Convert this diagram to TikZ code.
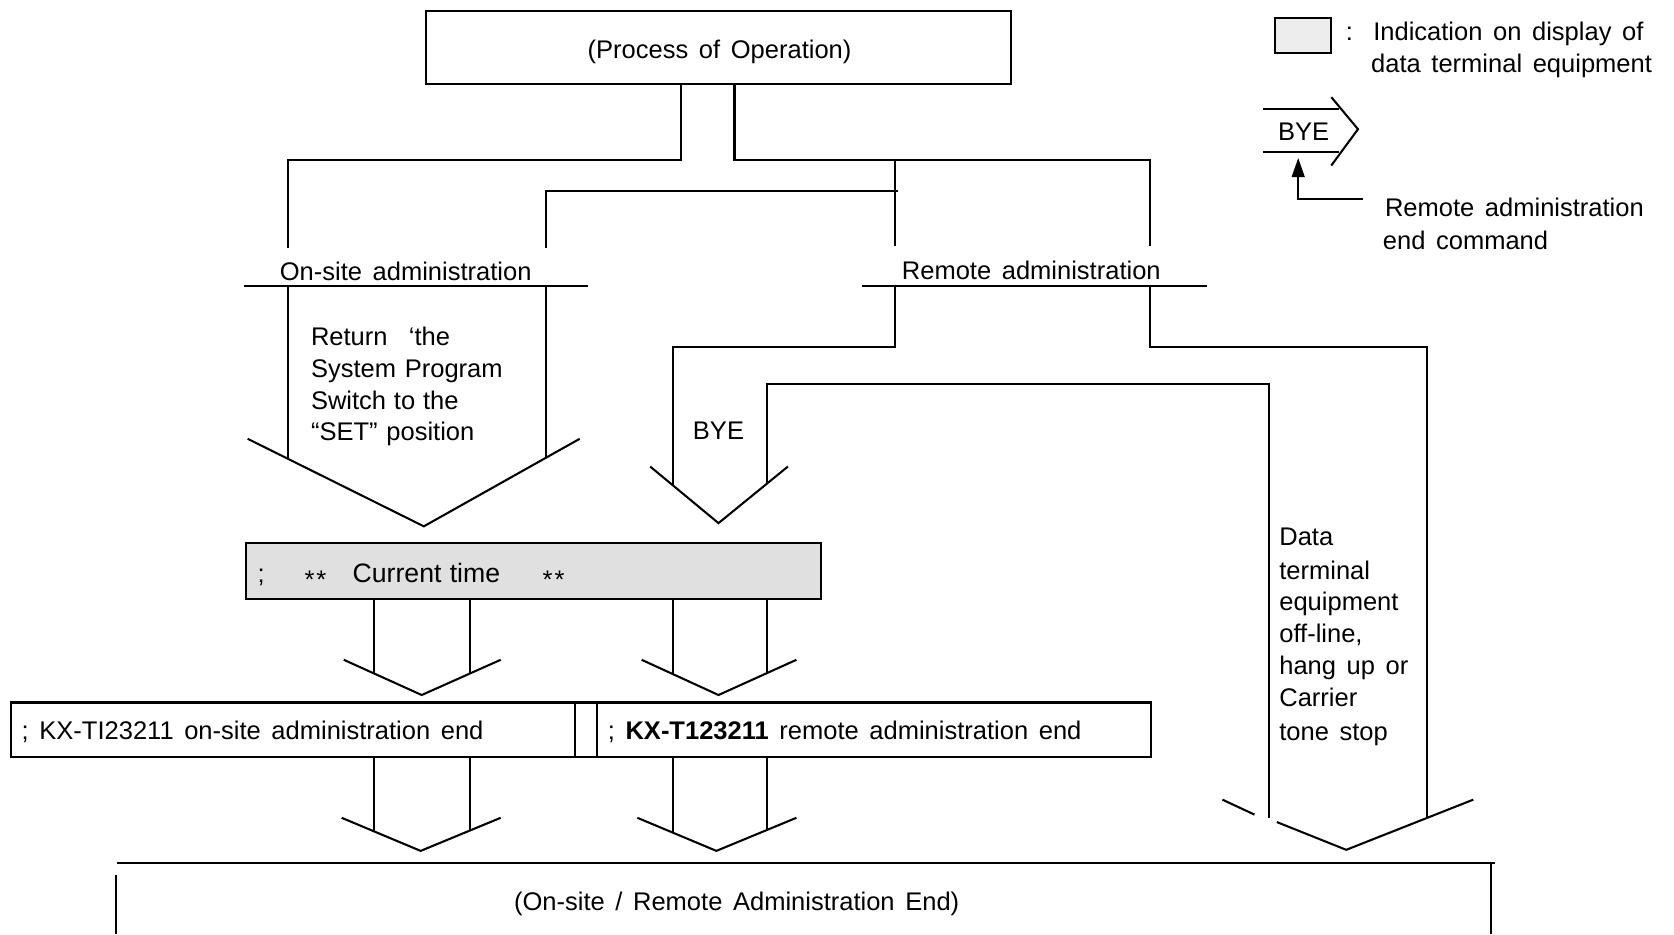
\documentclass[tikz,border=0pt]{standalone}
\usepackage{fontspec}
\setmainfont[WordSpace=1.5]{Liberation Sans}
\usetikzlibrary{arrows.meta}
\tikzset{
  txt/.style={font=\fontsize{13.6}{17.3}\selectfont, inner sep=0pt},
  bigtxt/.style={font=\fontsize{14.2}{18}\selectfont, inner sep=0pt},
  flow/.style={line width=1.1pt},
  disp/.style={line width=1.1pt, fill=black!12}
}
\newcommand{\midstars}{\raisebox{-0.45ex}{*\kern1pt*}}
\begin{document}
\begin{tikzpicture}[x=0.02cm,y=-0.02cm, line cap=butt, line join=miter]
\useasboundingbox (0,0) rectangle (1568,875);

% ---- top box
\draw[flow] (399,10) rectangle (947,79);
\node[txt, anchor=base] (proc) at (674,55) {(Process of Operation)};

% ---- branches from top box
\draw[flow] (638,79) -- (638,150) -- (270,150) -- (270,232);
\draw[flow] (688,79) -- (688,150) -- (1077,150) -- (1077,230);
\draw[flow] (838,150) -- (838,230);
\draw[flow] (511,232) -- (511,179) -- (841,179);

% ---- headings
\node[txt, anchor=base] (onsite) at (380,263) {On-site administration};
\draw[flow] (229,268) -- (551,268);
\node[txt, anchor=base] (remote) at (966,262) {Remote administration};
\draw[flow] (807,268) -- (1131,268);

% ---- on-site arrow
\draw[flow] (270,268) -- (270,430);
\draw[flow] (511,268) -- (511,429);
\draw[flow] (232,411) -- (397,493) -- (543,411);
\node[txt, anchor=base west] (ret1) at (291,324) {Return \ ‘the};
\node[txt, anchor=base west] (ret2) at (291,354) {System\kern-1pt{} Program};
\node[txt, anchor=base west] (ret3) at (291,384) {Switch\kern-1.5pt{} to\kern-1.5pt{} the};
\node[txt, anchor=base west] (ret4) at (291,413) {“SET”\kern-1pt{} position};

% ---- BYE arrow
\draw[flow] (838,268) -- (838,325) -- (630,325) -- (630,454);
\draw[flow] (718,453) -- (718,360) -- (1189,360) -- (1189,766);
\draw[flow] (609,437) -- (673,490) -- (738,437);
\node[txt, anchor=base] (bye) at (673,412) {BYE};

% ---- right big arrow
\draw[flow] (1077,268) -- (1077,325) -- (1337,325) -- (1337,766);
\draw[flow] (1145,749) -- (1175,763);
\draw[flow] (1196,770) -- (1261,796) -- (1380,749);
\node[txt, anchor=base west] (d1) at (1198,511) {Data};
\node[txt, anchor=base west] (d2) at (1198,543) {terminal};
\node[txt, anchor=base west] (d3) at (1198,572) {equipment};
\node[txt, anchor=base west] (d4) at (1198,602) {off-line,};
\node[txt, anchor=base west] (d5) at (1198,632) {hang up or};
\node[txt, anchor=base west] (d6) at (1198,662) {Carrier};
\node[txt, anchor=base west] (d7) at (1198,694) {tone stop};

% ---- current time box
\draw[disp] (230,509) rectangle (769,561);
\node[txt, anchor=base west] (semi) at (241,546) {;};
\node[txt, anchor=base west] (st1) at (285,546) {\midstars};
\node[bigtxt, anchor=base west] (ct) at (330,546) {Current\kern-1.5pt{} time};
\node[txt, anchor=base west] (st2) at (508,546) {\midstars};

% ---- arrows below current time
\draw[flow] (350,561) -- (350,631);
\draw[flow] (440,561) -- (440,631);
\draw[flow] (322,618) -- (395,651) -- (469,618);
\draw[flow] (630,561) -- (630,631);
\draw[flow] (718,561) -- (718,631);
\draw[flow] (601,618) -- (673,651) -- (746,618);

% ---- KX boxes
\draw[flow] (10,658) rectangle (1078,709);
\draw[flow] (539,658) -- (539,709);
\draw[flow] (559,658) -- (559,709);
\node[txt, anchor=base west] (kx1) at (20,693) {; KX-TI23211 on-site administration end};
\node[txt, anchor=base west] (kx2) at (569,693) {; \textbf{KX-T123211} remote administration end};

% ---- arrows below KX boxes
\draw[flow] (350,709) -- (350,779);
\draw[flow] (440,709) -- (440,778);
\draw[flow] (320,766) -- (394,797) -- (469,766);
\draw[flow] (630,709) -- (630,780);
\draw[flow] (718,709) -- (718,778);
\draw[flow] (597,766) -- (671,797) -- (746,766);

% ---- bottom box
\draw[flow] (110,808) -- (1400,808);
\draw[flow] (109,820) -- (109,875);
\draw[flow] (1397,808) -- (1397,875);
\node[txt, anchor=base] (endtxt) at (690,853) {(On-site / Remote Administration End)};

% ---- legend
\draw[line width=1pt, fill=black!7] (1194,17) rectangle (1247,50);
\node[txt, anchor=base] (colon) at (1264,38) {:};
\node[txt, anchor=base west] (leg1) at (1286,38) {Indication on display of};
\node[txt, anchor=base west] (leg2) at (1284,68) {data terminal equipment};
\draw[flow] (1183,102) -- (1254,102);
\draw[flow] (1183,142) -- (1254,142);
\draw[flow] (1247,91) -- (1272,121) -- (1247,155);
\node[txt, anchor=base] (legbye) at (1221,132) {BYE};
\draw[flow, -{Triangle[length=0.36cm, width=0.24cm]}] (1277,186) -- (1216,186) -- (1216,148);
\node[txt, anchor=base west] (leg3) at (1297,203) {Remote administration};
\node[txt, anchor=base west] (leg4) at (1295,234) {end command};
\end{tikzpicture}
\end{document}
